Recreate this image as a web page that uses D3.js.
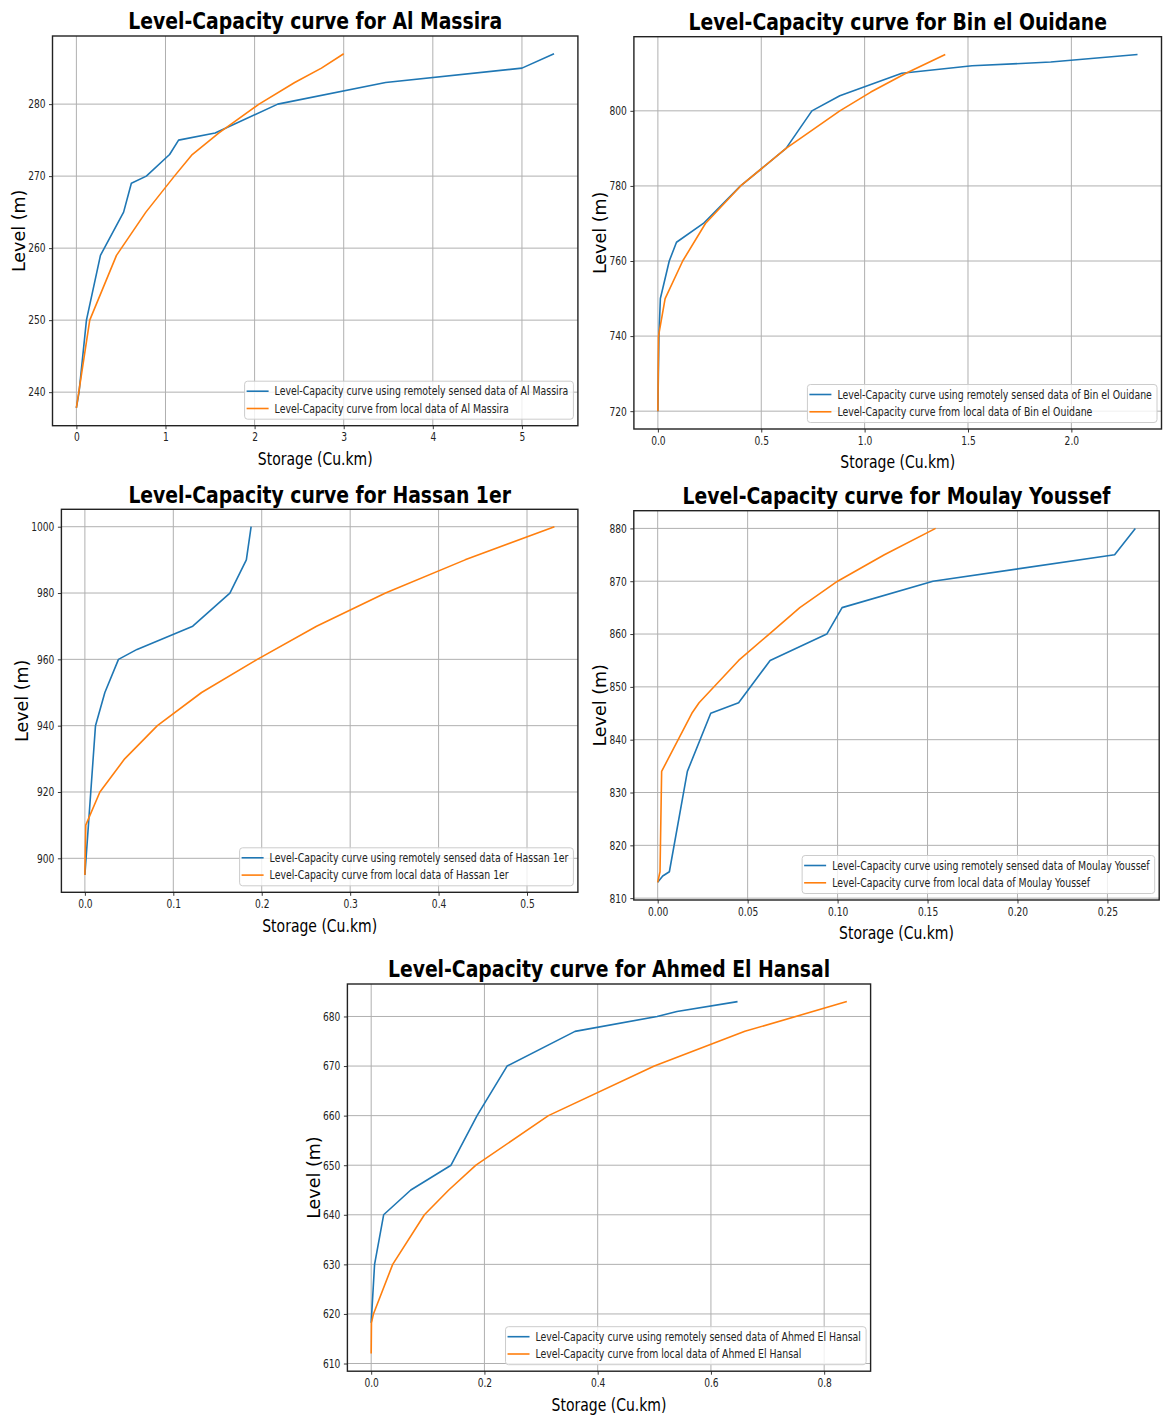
<!DOCTYPE html>
<html><head><meta charset="utf-8">
<script src="https://cdn.jsdelivr.net/npm/d3@7"></script>
<style>
body{margin:0;background:#fff}
svg{display:block}
text{font-family:"DejaVu Sans",sans-serif}
</style>
</head><body>
<svg id="chart" width="1163" height="1417"></svg>
<script>
// ---------------- DATA ----------------
const reservoirNames = ["Al Massira", "Bin el Ouidane", "Hassan 1er", "Moulay Youssef", "Ahmed El Hansal"];

const massiraRemoteStorage = [0, 0.03, 0.113, 0.27, 0.53, 0.617, 0.785, 1.046, 1.147, 1.557, 2.26, 3.47, 5.0, 5.36];
const massiraRemoteLevel   = [237.8, 240, 250, 259, 265, 269, 270, 273, 275, 276, 280, 283, 285, 287];
const massiraLocalStorage  = [0, 0.15, 0.45, 0.78, 1.1, 1.3, 1.6, 2.05, 2.45, 2.75, 3.0];
const massiraLocalLevel    = [237.8, 250, 259, 265, 270, 273, 276, 280, 283, 285, 287];

const ouidaneRemoteStorage = [0, 0.005, 0.012, 0.055, 0.09, 0.22, 0.4, 0.62, 0.745, 0.88, 1.18, 1.52, 1.9, 2.32];
const ouidaneRemoteLevel   = [720, 740, 750, 760, 765, 770, 780, 790, 800, 804, 810, 812, 813, 815];
const ouidaneLocalStorage  = [0, 0.003, 0.035, 0.12, 0.23, 0.4, 0.62, 0.75, 0.88, 1.03, 1.2, 1.39];
const ouidaneLocalLevel    = [720, 740, 750, 760, 770, 780, 790, 795, 800, 805, 810, 815];

const hassanRemoteStorage = [0, 0.012, 0.0226, 0.038, 0.059, 0.122, 0.164, 0.1826, 0.188];
const hassanRemoteLevel   = [895, 940, 950, 960, 963, 970, 980, 990, 1000];
const hassanLocalStorage  = [0, 0.001, 0.017, 0.045, 0.082, 0.132, 0.195, 0.262, 0.34, 0.43, 0.531];
const hassanLocalLevel    = [895, 910, 920, 930, 940, 950, 960, 970, 980, 990, 1000];

const moulayRemoteStorage = [0, 0.0028, 0.0065, 0.0165, 0.0295, 0.045, 0.0625, 0.094, 0.1025, 0.153, 0.254, 0.2655];
const moulayRemoteLevel   = [813, 814.2, 815, 834, 845, 847, 855, 860, 865, 870, 875, 880];
const moulayLocalStorage  = [0, 0.0013, 0.0022, 0.019, 0.023, 0.045, 0.062, 0.079, 0.1, 0.126, 0.1545];
const moulayLocalLevel    = [813, 815, 834, 845, 847, 855, 860, 865, 870, 875, 880];

const hansalRemoteStorage = [0, 0.006, 0.022, 0.07, 0.141, 0.187, 0.24, 0.36, 0.505, 0.54, 0.647];
const hansalRemoteLevel   = [618.2, 630, 640, 645, 650, 660, 670, 677, 680, 681, 683];
const hansalLocalStorage  = [0, 0.0005, 0.004, 0.038, 0.094, 0.137, 0.185, 0.313, 0.5, 0.66, 0.84];
const hansalLocalLevel    = [612, 618.2, 620, 630, 640, 645, 650, 660, 670, 677, 683];

const massiraXTicks = [0, 1, 2, 3, 4, 5];
const massiraYTicks = [240, 250, 260, 270, 280];
const ouidaneXTicks = [0, 0.5, 1.0, 1.5, 2.0];
const ouidaneYTicks = [720, 740, 760, 780, 800];
const hassanXTicks  = [0, 0.1, 0.2, 0.3, 0.4, 0.5];
const hassanYTicks  = [900, 920, 940, 960, 980, 1000];
const moulayXTicks  = [0, 0.05, 0.10, 0.15, 0.20, 0.25];
const moulayYTicks  = [810, 820, 830, 840, 850, 860, 870, 880];
const hansalXTicks  = [0, 0.2, 0.4, 0.6, 0.8];
const hansalYTicks  = [610, 620, 630, 640, 650, 660, 670, 680];

const xLabel = "Storage (Cu.km)";
const yLabel = "Level (m)";

// ---------------- LAYOUT ----------------
const layout = [
  {l: 52.5, t: 36,    r: 577.9,  b: 425.7, xFmt: d3.format("d")},
  {l: 633.9, t: 36.7, r: 1161.5, b: 429,   xFmt: d3.format(".1f")},
  {l: 61.4, t: 509.3, r: 577.9,  b: 892.3, xFmt: d3.format(".1f")},
  {l: 633.8, t: 510.7, r: 1159.2, b: 900,  xFmt: d3.format(".2f")},
  {l: 347.4, t: 984,  r: 870.6,  b: 1371.2, xFmt: d3.format(".1f")}
];
const seriesData = [
  [massiraRemoteStorage, massiraRemoteLevel, massiraLocalStorage, massiraLocalLevel, massiraXTicks, massiraYTicks],
  [ouidaneRemoteStorage, ouidaneRemoteLevel, ouidaneLocalStorage, ouidaneLocalLevel, ouidaneXTicks, ouidaneYTicks],
  [hassanRemoteStorage, hassanRemoteLevel, hassanLocalStorage, hassanLocalLevel, hassanXTicks, hassanYTicks],
  [moulayRemoteStorage, moulayRemoteLevel, moulayLocalStorage, moulayLocalLevel, moulayXTicks, moulayYTicks],
  [hansalRemoteStorage, hansalRemoteLevel, hansalLocalStorage, hansalLocalLevel, hansalXTicks, hansalYTicks]
];

const BLUE = "#1f77b4", ORANGE = "#ff7f0e";
const SX = {title: 0.8, tick: 0.76, label: 0.8, legend: 0.8};
const FS = {title: 23.5, tick: 12, label: 17.5, legend: 11.7};

const svg = d3.select("#chart");

function padDomain(vals) {
  const [mn, mx] = d3.extent(vals);
  const p = (mx - mn) * 0.05;
  return [mn - p, mx + p];
}

reservoirNames.forEach((name, i) => {
  const L = layout[i];
  const [rs, rl, ls, ll, xt, yt] = seriesData[i];
  const x = d3.scaleLinear().domain(padDomain(rs.concat(ls))).range([L.l, L.r]);
  const y = d3.scaleLinear().domain(padDomain(rl.concat(ll))).range([L.b, L.t]);
  const g = svg.append("g");

  // grid
  g.append("g").selectAll("line").data(xt).join("line")
    .attr("x1", d => x(d)).attr("x2", d => x(d)).attr("y1", L.t).attr("y2", L.b)
    .attr("stroke", "#b0b0b0").attr("stroke-width", 1);
  g.append("g").selectAll("line").data(yt).join("line")
    .attr("y1", d => y(d)).attr("y2", d => y(d)).attr("x1", L.l).attr("x2", L.r)
    .attr("stroke", "#b0b0b0").attr("stroke-width", 1);

  // lines
  const line = d3.line().x(d => x(d[0])).y(d => y(d[1]));
  g.append("path").datum(rs.map((s, k) => [s, rl[k]])).attr("d", line)
    .attr("fill", "none").attr("stroke", BLUE).attr("stroke-width", 1.6).attr("stroke-linejoin", "round");
  g.append("path").datum(ls.map((s, k) => [s, ll[k]])).attr("d", line)
    .attr("fill", "none").attr("stroke", ORANGE).attr("stroke-width", 1.6).attr("stroke-linejoin", "round");

  // frame
  g.append("rect").attr("x", L.l).attr("y", L.t).attr("width", L.r - L.l).attr("height", L.b - L.t)
    .attr("fill", "none").attr("stroke", "#222").attr("stroke-width", 1.4);

  // axes
  const xa = g.append("g").attr("transform", `translate(0,${L.b})`)
    .call(d3.axisBottom(x).tickValues(xt).tickFormat(L.xFmt).tickSize(3.5).tickSizeOuter(0).tickPadding(3.5));
  const ya = g.append("g").attr("transform", `translate(${L.l},0)`)
    .call(d3.axisLeft(y).tickValues(yt).tickFormat(d3.format("d")).tickSize(3.5).tickSizeOuter(0).tickPadding(3.5));
  [xa, ya].forEach(a => {
    a.select(".domain").remove();
    a.selectAll(".tick line").attr("stroke", "#222").attr("stroke-width", 0.9);
    a.selectAll("text").attr("font-family", "DejaVu Sans").attr("font-size", FS.tick).attr("fill", "#222");
  });
  xa.selectAll("text").attr("transform", `scale(${SX.tick},1)`);
  ya.selectAll("text").attr("x", -7 / SX.tick).attr("transform", `scale(${SX.tick},1)`);

  // title
  g.append("text").attr("transform", `translate(${(L.l + L.r) / 2},${L.t - 6.7}) scale(${SX.title},1)`)
    .attr("text-anchor", "middle").attr("font-weight", "bold").attr("font-size", FS.title).attr("fill", "#000")
    .text("Level-Capacity curve for " + name);

  // x label
  g.append("text").attr("transform", `translate(${(L.l + L.r) / 2},${L.b + 39.3}) scale(${SX.label},1)`)
    .attr("text-anchor", "middle").attr("font-size", FS.label).attr("fill", "#000").text(xLabel);

  // y label (rotated, unsquished glyph height)
  const bb = ya.node().getBBox();
  const yl = L.l + bb.x - 3.5;
  g.append("text").attr("transform", `translate(${yl},${(L.t + L.b) / 2}) rotate(-90)`)
    .attr("text-anchor", "middle").attr("font-size", FS.label).attr("fill", "#000").text(yLabel);

  // legend
  const labels = ["Level-Capacity curve using remotely sensed data of " + name,
                  "Level-Capacity curve from local data of " + name];
  const lg = g.append("g");
  const texts = labels.map((t, k) => lg.append("text").attr("font-size", FS.legend).attr("fill", "#222").text(t));
  const tw = d3.max(texts, t => t.node().getComputedTextLength()) * SX.legend;
  const bw = 30 + tw + 5, bh = 38;
  const bx = L.r - 4.5 - bw, by = L.b - 6.5 - bh;
  lg.insert("rect", "text").attr("x", bx).attr("y", by).attr("width", bw).attr("height", bh).attr("rx", 3)
    .attr("fill", "#fff").attr("fill-opacity", 0.8).attr("stroke", "#cccccc").attr("stroke-width", 1);
  [BLUE, ORANGE].forEach((c, k) => {
    const cy = by + 10 + k * 17.3;
    lg.append("line").attr("x1", bx + 2).attr("x2", bx + 24).attr("y1", cy).attr("y2", cy)
      .attr("stroke", c).attr("stroke-width", 1.6);
    texts[k].attr("transform", `translate(${bx + 30},${cy + 4.1}) scale(${SX.legend},1)`);
  });
});
</script>
</body></html>
